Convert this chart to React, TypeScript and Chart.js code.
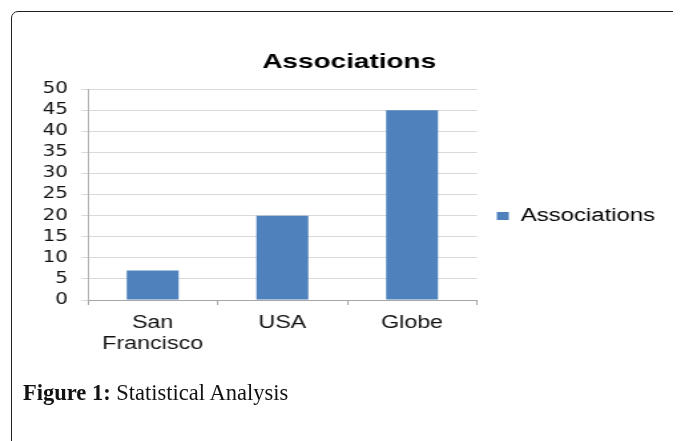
import React, { useEffect, useRef } from "react";
import { Chart, registerables } from "chart.js";

Chart.register(...registerables);

const categories: (string | string[])[] = [["San", "Francisco"], "USA", "Globe"];
const seriesName = "Associations";
const seriesValues = [7, 20, 45];
const yMin = 0;
const yMax = 50;
const yStep = 5;
const chartTitle = "Associations";
const captionBold = "Figure 1:";
const captionText = " Statistical Analysis";

const SX = 1.33;
const FONT = "'Liberation Sans', Arial, Helvetica, sans-serif";
const YFONT = "'DejaVu Sans', 'Liberation Sans', sans-serif";
const LEGEND_WIDTH = 151.5;

export default function App() {
  const ref = useRef<HTMLCanvasElement | null>(null);

  useEffect(() => {
    if (!ref.current) return;
    const legendWidthPlugin = {
      id: "legendWidth",
      beforeLayout(chart: any) {
        const lg = chart.legend;
        if (lg && !lg.__fixed) {
          lg.__fixed = true;
          const origFit = lg.fit.bind(lg);
          lg.fit = function () {
            origFit();
            this.width = LEGEND_WIDTH;
          };
        }
      },
    };
    const chart = new Chart(ref.current, {
      type: "bar",
      data: {
        labels: categories,
        datasets: [
          {
            label: seriesName,
            data: seriesValues,
            backgroundColor: "#4F81BD",
            borderWidth: 0,
            barPercentage: 0.4,
            categoryPercentage: 1.0,
          },
        ],
      },
      plugins: [legendWidthPlugin],
      options: {
        animation: false,
        responsive: true,
        maintainAspectRatio: false,
        devicePixelRatio: 1,
        layout: { padding: 0 },
        plugins: {
          title: {
            display: true,
            text: chartTitle,
            color: "#000",
            font: { family: FONT, size: 21, weight: "bold", lineHeight: 1.2 },
            padding: { top: 15, bottom: 14 },
          },
          legend: {
            display: true,
            position: "right",
            align: "center",
            maxWidth: 400,
            labels: {
              boxWidth: 9,
              boxHeight: 8,
              padding: 15,
              color: "#000",
              font: { family: FONT, size: 18 },
            },
          },
          tooltip: { enabled: false },
        },
        scales: {
          x: {
            afterFit: (scale: any) => {
              scale.height = 97;
            },
            grid: {
              offset: true,
              drawOnChartArea: false,
              drawTicks: true,
              tickLength: 5,
              color: "#a6a6a6",
            },
            border: { display: true, color: "#a6a6a6", width: 1 },
            ticks: {
              color: "#111",
              padding: 8,
              font: { family: FONT, size: 17.5, lineHeight: 1.17 },
              maxRotation: 0,
              autoSkip: false,
            },
          },
          y: {
            min: yMin,
            max: yMax,
            afterFit: (scale: any) => {
              scale.width = 51;
            },
            grid: {
              color: "#d9d9d9",
              drawTicks: true,
              tickLength: 5,
            },
            border: { display: true, color: "#b3b3b3", width: 1 },
            ticks: {
              stepSize: yStep,
              autoSkip: false,
              color: "#111",
              padding: 10,
              font: { family: YFONT, size: 15 },
            },
          },
        },
      },
    });
    return () => chart.destroy();
  }, []);

  return (
    <div
      style={{
        position: "relative",
        width: 673,
        height: 433,
        overflow: "hidden",
      }}
    >
      <div
        style={{
          position: "absolute",
          left: 3,
          top: 3,
          width: 720,
          height: 520,
          border: "1.5px solid #222",
          borderRadius: 7,
          boxSizing: "border-box",
        }}
      />
      <div
        style={{
          position: "absolute",
          left: 12,
          top: 27,
          width: 495,
          height: 362,
          transform: `scaleX(${SX})`,
          transformOrigin: "0 0",
        }}
      >
        <canvas ref={ref} />
      </div>
      <div
        style={{
          position: "absolute",
          left: 15,
          top: 372,
          fontFamily: "'Liberation Serif', 'Times New Roman', serif",
          fontSize: 22.5,
          color: "#111",
          whiteSpace: "nowrap",
        }}
      >
        <b>{captionBold}</b>
        {captionText}
      </div>
    </div>
  );
}
